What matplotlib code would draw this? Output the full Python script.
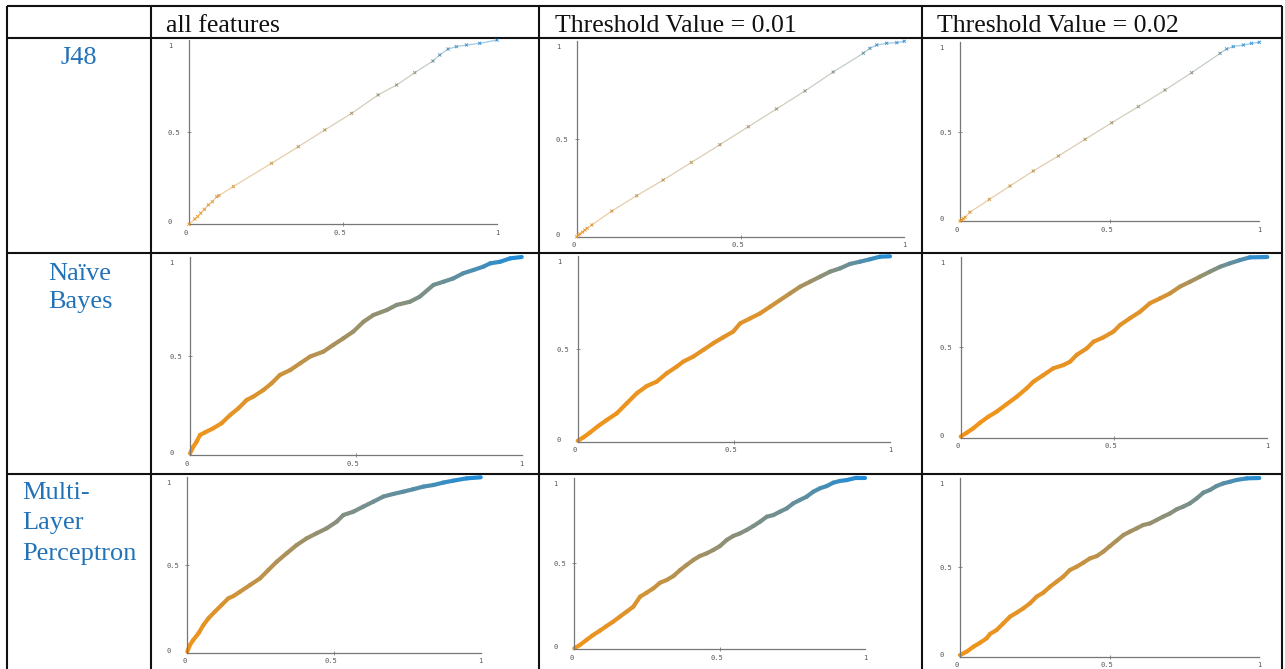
import numpy as np
import matplotlib
matplotlib.use("Agg")
import matplotlib.pyplot as plt
from matplotlib.collections import LineCollection
from matplotlib.transforms import ScaledTranslation

# ---------------- data ----------------
col_headers = ["all features", "Threshold Value = 0.01", "Threshold Value = 0.02"]
row_labels = ["J48", "Naïve\nBayes", "Multi-\nLayer\nPerceptron"]
tick_vals = [0, 0.5, 1]
tick_labels = ["0", "0.5", "1"]

# J48
j48_all_fpr = [0, 0.019, 0.028, 0.038, 0.050, 0.063, 0.076, 0.090, 0.097, 0.144, 0.268, 0.355, 0.441,
               0.528, 0.614, 0.674, 0.733, 0.792, 0.814, 0.841, 0.868, 0.901, 0.944, 1.0]
j48_all_tpr = [0, 0.029, 0.042, 0.060, 0.081, 0.105, 0.123, 0.150, 0.156, 0.205, 0.331, 0.421, 0.512,
               0.602, 0.702, 0.756, 0.823, 0.886, 0.919, 0.951, 0.964, 0.973, 0.982, 1.0]
j48_001_fpr = [0, 0.005, 0.010, 0.018, 0.025, 0.032, 0.046, 0.107, 0.183, 0.264, 0.350, 0.437, 0.524,
               0.610, 0.697, 0.783, 0.875, 0.895, 0.916, 0.946, 0.977, 1.0]
j48_001_tpr = [0, 0.008, 0.014, 0.024, 0.034, 0.043, 0.060, 0.131, 0.210, 0.290, 0.380, 0.471, 0.563,
               0.654, 0.746, 0.843, 0.939, 0.964, 0.981, 0.990, 0.993, 1.0]
j48_002_fpr = [0, 0.006, 0.011, 0.017, 0.033, 0.098, 0.167, 0.245, 0.329, 0.418, 0.507, 0.596, 0.685,
               0.774, 0.869, 0.891, 0.913, 0.947, 0.974, 1.0]
j48_002_tpr = [0, 0.006, 0.013, 0.021, 0.049, 0.121, 0.196, 0.280, 0.364, 0.457, 0.550, 0.640, 0.733,
               0.830, 0.938, 0.963, 0.976, 0.985, 0.994, 1.0]

# Naive Bayes
nb_all_fpr = [0, 0.010, 0.020, 0.030, 0.045, 0.070, 0.095, 0.121, 0.146, 0.171, 0.191, 0.221, 0.246,
              0.271, 0.302, 0.332, 0.362, 0.402, 0.432, 0.462, 0.492, 0.523, 0.553, 0.593, 0.623,
              0.663, 0.693, 0.734, 0.764, 0.794, 0.824, 0.854, 0.884, 0.905, 0.935, 0.965, 1.0]
nb_all_tpr = [0.008, 0.042, 0.067, 0.101, 0.114, 0.135, 0.160, 0.202, 0.236, 0.278, 0.295, 0.328, 0.362,
              0.404, 0.429, 0.463, 0.497, 0.522, 0.556, 0.589, 0.623, 0.673, 0.707, 0.732, 0.758,
              0.774, 0.800, 0.859, 0.875, 0.892, 0.918, 0.934, 0.951, 0.968, 0.976, 0.993, 1.0]
nb_001_fpr = [0, 0.018, 0.039, 0.066, 0.093, 0.125, 0.157, 0.189, 0.221, 0.253, 0.285, 0.317, 0.338,
              0.370, 0.402, 0.434, 0.466, 0.498, 0.520, 0.552, 0.584, 0.616, 0.648, 0.680, 0.712,
              0.744, 0.776, 0.808, 0.840, 0.872, 0.904, 0.936, 0.968, 1.0]
nb_001_tpr = [0.005, 0.023, 0.049, 0.085, 0.117, 0.153, 0.207, 0.261, 0.300, 0.324, 0.369, 0.405, 0.432,
              0.459, 0.495, 0.531, 0.563, 0.594, 0.638, 0.665, 0.692, 0.728, 0.764, 0.800, 0.836,
              0.863, 0.890, 0.917, 0.935, 0.959, 0.971, 0.984, 0.998, 1.0]
nb_002_fpr = [0, 0.020, 0.041, 0.063, 0.090, 0.117, 0.150, 0.183, 0.215, 0.237, 0.270, 0.302, 0.335,
              0.357, 0.378, 0.411, 0.433, 0.465, 0.498, 0.520, 0.552, 0.585, 0.617, 0.650, 0.683,
              0.715, 0.748, 0.780, 0.813, 0.846, 0.878, 0.911, 0.943, 1.0]
nb_002_tpr = [0.006, 0.028, 0.052, 0.083, 0.116, 0.144, 0.186, 0.227, 0.273, 0.310, 0.347, 0.384, 0.402,
              0.421, 0.458, 0.494, 0.531, 0.555, 0.587, 0.624, 0.661, 0.697, 0.744, 0.771, 0.799,
              0.836, 0.863, 0.891, 0.919, 0.946, 0.965, 0.983, 0.998, 1.0]

# Multi-Layer Perceptron
mlp_all_fpr = [0, 0.009, 0.020, 0.038, 0.055, 0.072, 0.094, 0.117, 0.140, 0.157, 0.180, 0.214, 0.248,
               0.276, 0.305, 0.339, 0.373, 0.407, 0.441, 0.475, 0.509, 0.532, 0.566, 0.600, 0.634,
               0.668, 0.702, 0.736, 0.770, 0.805, 0.839, 0.873, 0.907, 0.952, 1.0]
mlp_all_tpr = [0.006, 0.044, 0.072, 0.110, 0.158, 0.196, 0.234, 0.272, 0.310, 0.323, 0.348, 0.386, 0.424,
               0.471, 0.519, 0.567, 0.614, 0.652, 0.681, 0.709, 0.747, 0.785, 0.804, 0.833, 0.861,
               0.890, 0.905, 0.918, 0.932, 0.947, 0.956, 0.970, 0.981, 0.994, 1.0]
mlp_001_fpr = [0, 0.019, 0.042, 0.065, 0.088, 0.111, 0.134, 0.157, 0.180, 0.203, 0.226, 0.249, 0.272,
               0.295, 0.318, 0.341, 0.364, 0.386, 0.409, 0.432, 0.455, 0.478, 0.501, 0.524, 0.547,
               0.570, 0.593, 0.616, 0.639, 0.662, 0.685, 0.708, 0.731, 0.753, 0.776, 0.799, 0.822,
               0.845, 0.868, 0.891, 0.914, 0.937, 0.971, 1.0]
mlp_001_tpr = [0.004, 0.023, 0.053, 0.082, 0.107, 0.134, 0.160, 0.189, 0.218, 0.247, 0.305, 0.329, 0.354,
               0.387, 0.403, 0.426, 0.461, 0.490, 0.519, 0.543, 0.558, 0.578, 0.601, 0.636, 0.660,
               0.675, 0.695, 0.718, 0.743, 0.772, 0.782, 0.802, 0.821, 0.850, 0.870, 0.889, 0.918,
               0.938, 0.951, 0.971, 0.981, 0.986, 1.0, 1.0]
mlp_002_fpr = [0, 0.022, 0.045, 0.067, 0.089, 0.100, 0.122, 0.145, 0.167, 0.189, 0.212, 0.234, 0.256,
               0.278, 0.301, 0.323, 0.345, 0.367, 0.390, 0.412, 0.434, 0.457, 0.479, 0.501, 0.523,
               0.546, 0.568, 0.590, 0.612, 0.635, 0.657, 0.679, 0.702, 0.724, 0.746, 0.768, 0.791,
               0.813, 0.835, 0.857, 0.880, 0.902, 0.924, 0.958, 1.0]
mlp_002_tpr = [0.009, 0.028, 0.056, 0.078, 0.103, 0.127, 0.149, 0.187, 0.224, 0.246, 0.271, 0.299, 0.336,
               0.358, 0.392, 0.420, 0.448, 0.485, 0.504, 0.526, 0.550, 0.563, 0.588, 0.619, 0.649,
               0.681, 0.700, 0.718, 0.737, 0.746, 0.765, 0.784, 0.802, 0.825, 0.840, 0.858, 0.886,
               0.918, 0.933, 0.955, 0.970, 0.979, 0.989, 0.998, 1.0]

# colour stops (fpr position -> fraction from orange (0) to blue (1))
j48_all_cx, j48_all_cc = [0, 0.1, 0.75, 0.85, 1], [0, 0.1, 0.5, 0.85, 1]
j48_001_cx, j48_001_cc = [0, 0.05, 0.85, 0.92, 1], [0, 0.15, 0.55, 0.9, 1]
j48_002_cx, j48_002_cc = [0, 0.03, 0.85, 0.91, 1], [0, 0.15, 0.55, 0.9, 1]
nb_all_cx, nb_all_cc = [0, 0.2, 0.5, 0.75, 0.9, 1], [0, 0.1, 0.4, 0.6, 0.85, 1]
nb_001_cx, nb_001_cc = [0, 0.6, 0.75, 0.88, 1], [0, 0.1, 0.4, 0.65, 1]
nb_002_cx, nb_002_cc = [0, 0.65, 0.8, 0.9, 1], [0, 0.1, 0.45, 0.7, 1]
mlp_all_cx, mlp_all_cc = [0, 0.1, 0.5, 0.8, 0.9, 1], [0, 0.1, 0.5, 0.75, 0.9, 1]
mlp_001_cx, mlp_001_cc = [0, 0.2, 0.5, 0.8, 0.92, 1], [0, 0.1, 0.45, 0.7, 0.9, 1]
mlp_002_cx, mlp_002_cc = [0, 0.3, 0.6, 0.85, 0.95, 1], [0, 0.1, 0.4, 0.65, 0.85, 1]

# ---------------- layout ----------------
W, H = 1285, 669
fig = plt.figure(figsize=(W / 100, H / 100), dpi=100)
fig.patch.set_facecolor("white")

bg = fig.add_axes([0, 0, 1, 1])
bg.set_xlim(0, W)
bg.set_ylim(H, 0)
bg.axis("off")

serif = "Liberation Serif"
lw_tab = 1.5
for x in [7, 151, 539, 922, 1282]:
    bg.plot([x, x], [6, H + 2], color="#111111", lw=lw_tab, solid_capstyle="butt")
for y in [6, 38, 252.5, 474]:
    bg.plot([7, 1282], [y, y], color="#111111", lw=lw_tab, solid_capstyle="butt")

for txt, x in zip(col_headers, [166, 555, 937]):
    bg.text(x, 32, txt, fontfamily=serif, fontsize=18.5, color="#111111", ha="left", va="baseline")

label_blue = "#2272b8"
lab_style = dict(fontfamily=serif, fontsize=19, color=label_blue, va="baseline")
bg.text(79, 64, row_labels[0], ha="center", **lab_style)
for i, line in enumerate(row_labels[1].split("\n")):
    bg.text(80, 280 + 28 * i, line, ha="center", **lab_style)
for i, line in enumerate(row_labels[2].split("\n")):
    bg.text(22, 499 + 30.5 * i, line, ha="left", **lab_style)

# axes pixel boxes: x0, x1 (data 0..1), y0 (data 0), y1 (data 1)
boxes = [
    [(189, 497, 224.3, 40), (576.7, 904.3, 236.7, 41.3), (960, 1259.3, 221, 42.3)],
    [(190, 521.7, 455, 257), (577.7, 890, 441.7, 256.3), (960.7, 1267.3, 437.7, 257)],
    [(187.3, 480.7, 652.7, 477.3), (574.3, 865, 649, 477.7), (960, 1259.3, 656.7, 478)],
]

curves = [
    [(j48_all_fpr, j48_all_tpr, j48_all_cx, j48_all_cc),
     (j48_001_fpr, j48_001_tpr, j48_001_cx, j48_001_cc),
     (j48_002_fpr, j48_002_tpr, j48_002_cx, j48_002_cc)],
    [(nb_all_fpr, nb_all_tpr, nb_all_cx, nb_all_cc),
     (nb_001_fpr, nb_001_tpr, nb_001_cx, nb_001_cc),
     (nb_002_fpr, nb_002_tpr, nb_002_cx, nb_002_cc)],
    [(mlp_all_fpr, mlp_all_tpr, mlp_all_cx, mlp_all_cc),
     (mlp_001_fpr, mlp_001_tpr, mlp_001_cx, mlp_001_cc),
     (mlp_002_fpr, mlp_002_tpr, mlp_002_cx, mlp_002_cc)],
]

ORANGE = np.array([0.95, 0.58, 0.10])
BLUE = np.array([0.12, 0.55, 0.86])


def blend(c):
    c = np.clip(np.asarray(c), 0, 1)[..., None]
    return (1 - c) * ORANGE + c * BLUE


def px(dx, dy):
    return ScaledTranslation(dx / 100, dy / 100, fig.dpi_scale_trans)


axis_col = "#777777"
tick_font = dict(fontfamily="DejaVu Sans Mono", fontsize=5, color="#555555")

for r in range(3):
    for c in range(3):
        x0, x1, y0, y1 = boxes[r][c]
        ax = fig.add_axes([x0 / W, 1 - y0 / H, (x1 - x0) / W, (y0 - y1) / H])
        ax.set_xlim(0, 1)
        ax.set_ylim(0, 1)
        ax.patch.set_alpha(0)
        for s in ["top", "right"]:
            ax.spines[s].set_visible(False)
        for s in ["left", "bottom"]:
            ax.spines[s].set_color(axis_col)
            ax.spines[s].set_linewidth(0.9)
        ax.set_xticks([0.5])
        ax.set_yticks([0.5])
        ax.set_xticklabels([])
        ax.set_yticklabels([])
        ax.tick_params(length=2.5, width=0.6, color=axis_col, direction="inout")

        # tick labels placed as in the reference
        for v, lab in zip(tick_vals, tick_labels):
            ax.text(v, 0, lab, transform=ax.transData + px(-3 if v < 1 else 0, -8.5),
                    ha="center", va="center", clip_on=False, **tick_font)
        ydy = {0: 2, 0.5: -1, 1: -6}
        for v, lab in zip(tick_vals, tick_labels):
            ax.text(0, v, lab, transform=ax.transData + px(-21, ydy[v]),
                    ha="left", va="center", clip_on=False, **tick_font)

        fpr, tpr, cx, cc = curves[r][c]
        fpr = np.asarray(fpr)
        tpr = np.asarray(tpr)
        pcol = np.interp(fpr, cx, cc)
        pts = np.column_stack([fpr, tpr])
        segs = np.stack([pts[:-1], pts[1:]], axis=1)
        segc = blend((pcol[:-1] + pcol[1:]) / 2)
        if r == 0:
            lc = LineCollection(segs, colors=segc, linewidths=0.9, alpha=0.45, clip_on=False)
            ax.add_collection(lc)
            ax.scatter(fpr, tpr, s=5, marker="x", c=blend(pcol), linewidths=0.7,
                       alpha=0.85, clip_on=False, zorder=3)
        else:
            lc = LineCollection(segs, colors=segc, linewidths=3.0, capstyle="round",
                                joinstyle="round", clip_on=False)
            ax.add_collection(lc)

fig.savefig("out.png", dpi=100, facecolor="white")
